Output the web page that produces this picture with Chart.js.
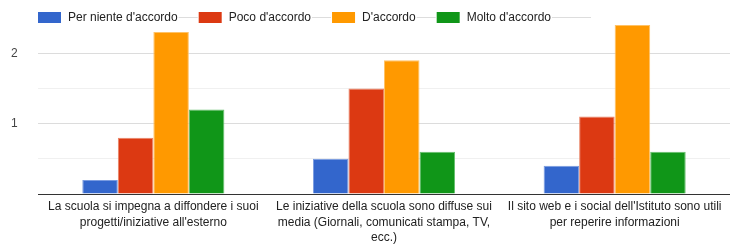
<!DOCTYPE html>
<html>
<head>
<meta charset="utf-8">
<script src="https://cdn.jsdelivr.net/npm/chart.js@4/dist/chart.umd.min.js"></script>
<style>
  html, body { margin: 0; padding: 0; background: #fff; }
  #wrap { width: 735px; height: 246px; }
</style>
</head>
<body>
<div id="wrap"><canvas id="teh_canvas" width="735" height="246"></canvas></div>
<script>
var categories = [
    ['La scuola si impegna a diffondere i suoi', "progetti/iniziative all'esterno"],
    ['Le iniziative della scuola sono diffuse sui', 'media (Giornali, comunicati stampa, TV,', 'ecc.)'],
    ["Il sito web e i social dell'Istituto sono utili", 'per reperire informazioni']
];
var seriesNames = ["Per niente d'accordo", "Poco d'accordo", "D'accordo", "Molto d'accordo"];
var perNiente = [0.2, 0.5, 0.4];
var poco = [0.8, 1.5, 1.1];
var daccordo = [2.3, 1.9, 2.4];
var molto = [1.2, 0.6, 0.6];
var yTickLabels = { 1: '1', 2: '2' };

var chartColors = ['#3366cc', '#dc3912', '#ff9900', '#109618'];
var borderColors = ['#7a9be0', '#ea8466', '#ffc266', '#66bf6d'];

// legend drawn by hand, google-charts style
var legendPlugin = {
    id: 'gLegend',
    afterDraw: function(chart) {
        var ctx = chart.ctx;
        var x = 38, y = 12, boxW = 23, boxH = 11;
        ctx.save();
        ctx.font = '12px Arial, "Liberation Sans", sans-serif';
        ctx.textBaseline = 'middle';
        chart.data.datasets.forEach(function(ds, i) {
            ctx.fillStyle = ds.backgroundColor;
            ctx.fillRect(x, y, boxW, boxH);
            var tx = x + boxW + 7;
            ctx.fillStyle = '#222';
            ctx.fillText(ds.label, tx, y + boxH / 2 + 0.5);
            var end = tx + ctx.measureText(ds.label).width;
            var next = end + 21;
            ctx.strokeStyle = '#dddddd';
            ctx.lineWidth = 1;
            ctx.beginPath();
            ctx.moveTo(end + 1, 17.5);
            ctx.lineTo(i == chart.data.datasets.length - 1 ? end + 40 : next - 1, 17.5);
            ctx.stroke();
            x = next;
        });
        ctx.restore();
    }
};

var values = [perNiente, poco, daccordo, molto];

new Chart(document.getElementById('teh_canvas'), {
    type: 'bar',
    data: {
        labels: categories,
        datasets: seriesNames.map(function(name, i) {
            return {
                label: name,
                data: values[i],
                backgroundColor: chartColors[i],
                borderColor: borderColors[i],
                borderWidth: 1,
                barPercentage: 1,
                categoryPercentage: 0.616
            };
        })
    },
    options: {
        responsive: false,
        animation: false,
        devicePixelRatio: 1,
        layout: { padding: { top: 18, right: 5, left: 11, bottom: 0 } },
        plugins: {
            legend: { display: false },
            tooltip: { enabled: false }
        },
        scales: {
            x: {
                grid: { display: false },
                border: { display: false },
                ticks: {
                    autoSkip: false,
                    maxRotation: 0,
                    padding: -3,
                    color: '#222',
                    font: { family: 'Arial, "Liberation Sans", sans-serif', size: 12, lineHeight: 1.3 }
                },
                afterFit: function(scale) { scale.height = 52; }
            },
            y: {
                min: 0,
                max: 2.5,
                border: { display: false },
                grid: {
                    drawTicks: false,
                    color: function(c) {
                        var v = c.tick.value;
                        if (v === 0) return '#333333';
                        if (v >= 2.5) return 'rgba(0,0,0,0)';
                        return Number.isInteger(v) ? '#dcdcdc' : '#f0f0f0';
                    }
                },
                ticks: {
                    stepSize: 0.5,
                    padding: 0,
                    crossAlign: 'far',
                    color: '#444',
                    font: { family: 'Arial, "Liberation Sans", sans-serif', size: 12 },
                    callback: function(v) { return yTickLabels[v] || ''; }
                },
                afterFit: function(scale) { scale.width = 27; }
            }
        }
    },
    plugins: [legendPlugin]
});
</script>
</body>
</html>
